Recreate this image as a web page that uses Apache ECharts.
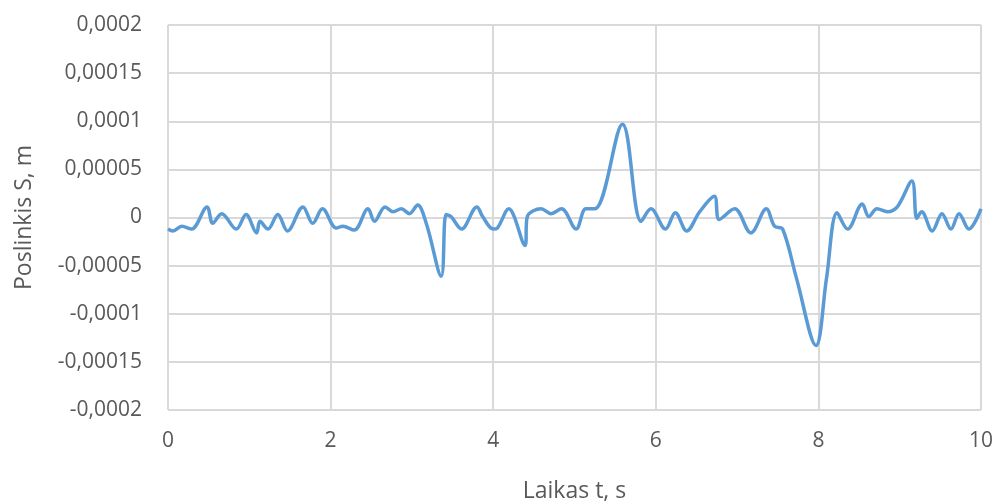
<!DOCTYPE html>
<html>
<head>
<meta charset="utf-8">
<script src="https://cdn.jsdelivr.net/npm/echarts@6/dist/echarts.min.js"></script>
<style>html,body{margin:0;padding:0;background:#fff}#c{width:1000px;height:504px}</style>
</head>
<body>
<div id="c"></div>
<script>
const xTitle = 'Laikas t, s';
const yTitle = 'Poslinkis S, m';
const times = [0,0.06,0.17,0.29,0.48,0.55,0.66,0.84,0.96,1.09,1.13,1.23,1.35,1.47,1.66,1.78,1.90,2.07,2.15,2.29,2.46,2.54,2.67,2.77,2.87,2.97,3.07,3.18,3.36,3.42,3.48,3.61,3.80,3.87,4.0,4.05,4.19,4.39,4.42,4.59,4.71,4.84,5.02,5.14,5.25,5.59,5.82,5.94,6.12,6.24,6.38,6.54,6.72,6.78,6.97,7.17,7.36,7.46,7.56,7.73,7.97,8.1,8.23,8.36,8.54,8.62,8.72,8.85,8.97,9.15,9.21,9.27,9.40,9.52,9.63,9.73,9.85,10.0];
const displacement = [-1.2e-5,-1.4e-5,-0.9e-5,-1.2e-5,1.1e-5,-0.6e-5,0.4e-5,-1.2e-5,0.3e-5,-1.6e-5,-0.4e-5,-1.2e-5,0.3e-5,-1.4e-5,1.1e-5,-0.6e-5,0.9e-5,-1.1e-5,-0.9e-5,-1.3e-5,0.9e-5,-0.4e-5,1.1e-5,0.6e-5,0.9e-5,0.4e-5,1.3e-5,-0.7e-5,-6.1e-5,0.3e-5,0.1e-5,-1.2e-5,1.1e-5,0.1e-5,-1.2e-5,-1.1e-5,0.9e-5,-2.9e-5,0.1e-5,0.9e-5,0.4e-5,0.9e-5,-1.2e-5,0.9e-5,0.9e-5,9.7e-5,-0.4e-5,0.9e-5,-1.2e-5,0.5e-5,-1.4e-5,0.6e-5,2.2e-5,-0.2e-5,0.9e-5,-1.6e-5,0.9e-5,-0.9e-5,-1.2e-5,-6.3e-5,-13.3e-5,-6.3e-5,0.5e-5,-1.2e-5,1.4e-5,0.1e-5,0.9e-5,0.6e-5,1.1e-5,3.8e-5,-0.1e-5,0.6e-5,-1.4e-5,0.4e-5,-1.2e-5,0.4e-5,-1.2e-5,0.9e-5];
const xTicks = [0, 2, 4, 6, 8, 10];
const yTicks = [-0.0002,-0.00015,-0.0001,-0.00005,0,0.00005,0.0001,0.00015,0.0002];

const fmt = v => Number(Number(v).toPrecision(6)).toString().replace('.', ',');
const font = '"Open Sans", "Liberation Sans", sans-serif';
const textColor = '#595959';
const chart = echarts.init(document.getElementById('c'), null, {renderer: 'canvas'});
chart.setOption({
  animation: false,
  backgroundColor: '#fff',
  grid: {left: 168, right: 19, top: 25, bottom: 94, outerBoundsMode: 'none', containLabel: false},
  xAxis: {
    type: 'value', min: xTicks[0], max: xTicks[xTicks.length-1], interval: 2,
    name: xTitle, nameLocation: 'middle', nameGap: 70,
    nameTextStyle: {color: textColor, fontSize: 23, fontFamily: font},
    axisLine: {show: false}, axisTick: {show: false},
    axisLabel: {color: textColor, fontSize: 21, fontFamily: font, margin: 21, formatter: fmt},
    splitLine: {show: true, lineStyle: {color: '#d9d9d9', width: 2}}
  },
  yAxis: {
    type: 'value', min: yTicks[0], max: yTicks[yTicks.length-1], interval: 0.00005,
    name: yTitle, nameLocation: 'middle', nameGap: 132, nameRotate: 90,
    nameTextStyle: {color: textColor, fontSize: 23, fontFamily: font},
    axisLine: {show: false}, axisTick: {show: false},
    axisLabel: {color: textColor, fontSize: 21, fontFamily: font, margin: 26, formatter: fmt},
    splitLine: {show: true, lineStyle: {color: '#d9d9d9', width: 2}}
  },
  series: [{
    type: 'line',
    data: times.map((t, i) => [t, displacement[i]]),
    smooth: 0.35,
    showSymbol: false,
    lineStyle: {color: '#5b9bd5', width: 3.5},
    itemStyle: {color: '#5b9bd5'}
  }]
});
</script>
</body>
</html>
